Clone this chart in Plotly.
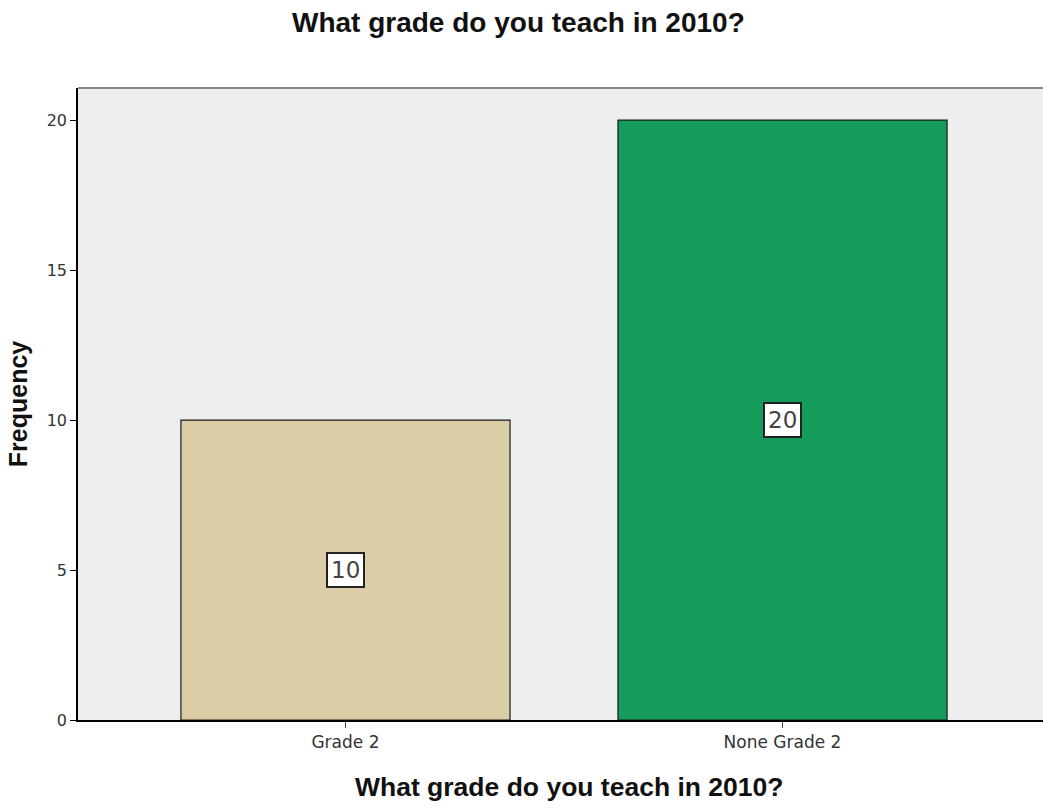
import plotly.graph_objects as go

categories = ["Grade 2", "None Grade 2"]
frequencies = [10, 20]
bar_colors = ["#DBCEA7", "#169C5A"]
y_ticks = [0, 5, 10, 15, 20]
title_text = "What grade do you teach in 2010?"

fig = go.Figure()
fig.add_trace(go.Bar(
    x=categories, y=frequencies,
    marker=dict(color=bar_colors, line=dict(color="#1a1a1a", width=1.2)),
    width=0.753, showlegend=False, hoverinfo="skip",
))

for c, v in zip(categories, frequencies):
    fig.add_annotation(
        x=c, y=v / 2, text=str(v), showarrow=False,
        font=dict(family="DejaVu Sans, Arial, sans-serif", size=23, color="#444444"),
        bgcolor="white", bordercolor="#222222", borderwidth=2, borderpad=3,
    )

# x-axis title (placed as paper annotation to match the reference position)
fig.add_annotation(
    xref="paper", yref="paper", x=0.509, y=-(787 - 720) / 632,
    text="<b>" + title_text + "</b>", showarrow=False,
    xanchor="center", yanchor="middle",
    font=dict(size=26.5, color="#111111"),
)

fig.update_layout(
    width=1043, height=808,
    margin=dict(l=78, r=0, t=88, b=88),
    paper_bgcolor="white", plot_bgcolor="#EEEEEE",
    font=dict(family="Liberation Sans, Arial, sans-serif", color="#222222"),
    title=dict(text="<b>" + title_text + "</b>", x=0.497, xanchor="center",
               y=1 - 22 / 808, yanchor="middle",
               font=dict(size=28, color="#111111")),
    bargap=0.247,
    xaxis=dict(
        range=[-0.612, 1.596], showgrid=False, zeroline=False,
        showline=True, linecolor="black", linewidth=2,
        ticks="outside", ticklen=6, tickcolor="#444444",
        tickfont=dict(family="DejaVu Sans, sans-serif", size=17, color="#333333"),
    ),
    yaxis=dict(
        range=[0, 21.07], showgrid=False, zeroline=False,
        tickvals=y_ticks,
        showline=True, linecolor="black", linewidth=1.5, mirror=False,
        ticks="outside", ticklen=6, tickcolor="black",
        tickfont=dict(family="DejaVu Sans, sans-serif", size=16, color="#333333"),
        title=dict(text="<b>Frequency</b>", font=dict(size=25, color="#111111"), standoff=12),
    ),
)
# top border of the plot frame
fig.add_shape(type="line", xref="paper", yref="paper", x0=0, x1=1, y0=1, y1=1,
              line=dict(color="#888888", width=2))

fig.write_html("out.html", config={"displayModeBar": False},
               post_script="document.body.style.margin='0';")
